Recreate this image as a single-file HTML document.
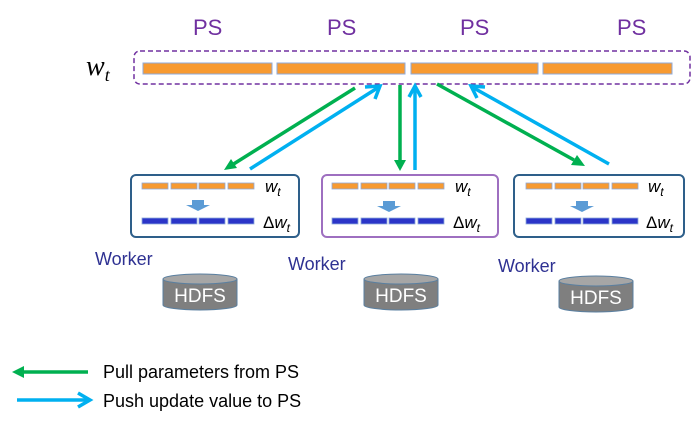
<!DOCTYPE html>
<html><head><style>
body{margin:0;background:#fff;width:691px;height:428px;overflow:hidden}
svg text{font-family:"Liberation Sans",sans-serif}
</style></head><body>
<svg width="691" height="428" viewBox="0 0 691 428" xmlns="http://www.w3.org/2000/svg">
<g font-size="22" fill="#7030a0">
<text x="193" y="35">PS</text><text x="327" y="35">PS</text><text x="460" y="35">PS</text><text x="617" y="35">PS</text>
</g>
<text x="86" y="75" font-style="italic" font-size="28" fill="#000" style="font-family:'Liberation Serif',serif">w<tspan font-size="18" dy="6">t</tspan></text>
<rect x="134" y="51" width="556" height="33" rx="6" fill="none" stroke="#7030a0" stroke-width="1.5" stroke-dasharray="5,3"/>
<g fill="#f79a31" stroke="#8eaadb" stroke-width="1">
<rect x="143" y="63" width="129" height="11"/><rect x="277" y="63" width="128" height="11"/><rect x="411" y="63" width="127" height="11"/><rect x="543" y="63" width="129" height="11"/>
</g>
<g stroke-width="3.5" fill="none">
<line x1="355" y1="88" x2="232" y2="165" stroke="#00b050"/>
<polygon points="224,170 231,159 237,168" fill="#00b050"/>
<line x1="250" y1="169" x2="379" y2="87" stroke="#00b0f0"/>
<polyline points="365,87 380,86 375,99" stroke="#00b0f0"/>
<line x1="400" y1="85" x2="400" y2="160" stroke="#00b050"/>
<polygon points="394,160 406,160 400,171" fill="#00b050"/>
<line x1="415" y1="170" x2="415" y2="87" stroke="#00b0f0"/>
<polyline points="409,97 415,86 421,97" stroke="#00b0f0"/>
<line x1="437" y1="84" x2="574" y2="160" stroke="#00b050"/>
<polygon points="585,166 571,165 577,155" fill="#00b050"/>
<line x1="609" y1="164" x2="472" y2="87" stroke="#00b0f0"/>
<polyline points="477,98 471,86 485,87" stroke="#00b0f0"/>
</g>
<rect x="131" y="175" width="168" height="62" rx="5" fill="#fff" stroke="#2e5f8a" stroke-width="2"/>
<rect x="322" y="175" width="176" height="62" rx="5" fill="#fff" stroke="#9e6fc0" stroke-width="2"/>
<rect x="514" y="175" width="170" height="62" rx="5" fill="#fff" stroke="#2e5f8a" stroke-width="2"/>
<g fill="#f79a31" stroke="#8eaadb" stroke-width="0.8">
<rect x="142" y="183" width="26" height="6"/><rect x="171" y="183" width="26" height="6"/><rect x="199" y="183" width="26" height="6"/><rect x="228" y="183" width="26" height="6"/>
<rect x="332" y="183" width="26" height="6"/><rect x="361" y="183" width="26" height="6"/><rect x="389" y="183" width="26" height="6"/><rect x="418" y="183" width="26" height="6"/>
<rect x="526" y="183" width="26" height="6"/><rect x="555" y="183" width="26" height="6"/><rect x="583" y="183" width="26" height="6"/><rect x="612" y="183" width="26" height="6"/>
</g>
<g fill="#2b35c8" stroke="#8eaadb" stroke-width="0.8">
<rect x="142" y="218" width="26" height="6"/><rect x="171" y="218" width="26" height="6"/><rect x="199" y="218" width="26" height="6"/><rect x="228" y="218" width="26" height="6"/>
<rect x="332" y="218" width="26" height="6"/><rect x="361" y="218" width="26" height="6"/><rect x="389" y="218" width="26" height="6"/><rect x="418" y="218" width="26" height="6"/>
<rect x="526" y="218" width="26" height="6"/><rect x="555" y="218" width="26" height="6"/><rect x="583" y="218" width="26" height="6"/><rect x="612" y="218" width="26" height="6"/>
</g>
<g fill="#5b9bd5">
<polygon points="192,200 204,200 204,205 210,205 198,211 186,205 192,205"/>
<polygon points="383,201 395,201 395,206 401,206 389,212 377,206 383,206"/>
<polygon points="576,201 588,201 588,206 594,206 582,212 570,206 576,206"/>
</g>
<g font-style="italic" font-size="17" fill="#000" style="font-family:'Liberation Serif',serif">
<text x="265" y="192">w<tspan font-size="12" dy="4">t</tspan></text>
<text x="263" y="228"><tspan font-style="normal">Δ</tspan>w<tspan font-size="12" dy="4">t</tspan></text>
<text x="455" y="192">w<tspan font-size="12" dy="4">t</tspan></text>
<text x="453" y="228"><tspan font-style="normal">Δ</tspan>w<tspan font-size="12" dy="4">t</tspan></text>
<text x="648" y="192">w<tspan font-size="12" dy="4">t</tspan></text>
<text x="646" y="228"><tspan font-style="normal">Δ</tspan>w<tspan font-size="12" dy="4">t</tspan></text>
</g>
<g font-size="18" fill="#2e3192">
<text x="95" y="265">Worker</text><text x="288" y="270">Worker</text><text x="498" y="272">Worker</text>
</g>
<g stroke="#5a7fa0" stroke-width="1">
<path d="M163,279 L163,305 A37,5 0 0 0 237,305 L237,279" fill="#7f7f7f"/>
<ellipse cx="200" cy="279" rx="37" ry="5" fill="#a6a6a6"/>
<path d="M364,279 L364,305 A37,5 0 0 0 438,305 L438,279" fill="#7f7f7f"/>
<ellipse cx="401" cy="279" rx="37" ry="5" fill="#a6a6a6"/>
<path d="M559,281 L559,307 A37,5 0 0 0 633,307 L633,281" fill="#7f7f7f"/>
<ellipse cx="596" cy="281" rx="37" ry="5" fill="#a6a6a6"/>
</g>
<g font-size="19" fill="#fff" text-anchor="middle">
<text x="200" y="302">HDFS</text><text x="401" y="302">HDFS</text><text x="596" y="304">HDFS</text>
</g>
<line x1="88" y1="372" x2="22" y2="372" stroke="#00b050" stroke-width="3.5"/>
<polygon points="12,372 24,366 24,378" fill="#00b050"/>
<line x1="17" y1="400" x2="88" y2="400" stroke="#00b0f0" stroke-width="3.5"/>
<polyline points="78,393 90,400 78,407" fill="none" stroke="#00b0f0" stroke-width="3.5"/>
<g font-size="18" fill="#000">
<text x="103" y="378">Pull parameters from PS</text>
<text x="103" y="407">Push update value to PS</text>
</g>
</svg>
</body></html>
